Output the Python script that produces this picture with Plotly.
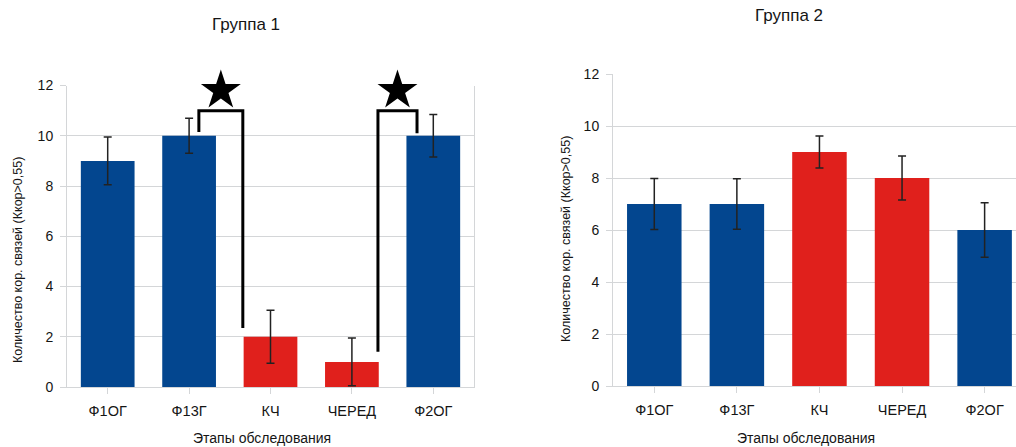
import plotly.graph_objects as go

# Data
stages = ["Ф1ОГ", "Ф13Г", "КЧ", "ЧЕРЕД", "Ф2ОГ"]
group1_values = [9, 10, 2, 1, 10]
group1_errors = [0.95, 0.7, 1.05, 0.95, 0.85]
group2_values = [7, 7, 9, 8, 6]
group2_errors = [0.98, 0.97, 0.62, 0.85, 1.05]
group1_colors = ["blue", "blue", "red", "red", "blue"]
group2_colors = ["blue", "blue", "red", "red", "blue"]
# significant pairs in group 1 (index pairs)
sig_pairs = [(1, 2), (3, 4)]

y_ticks = [0, 2, 4, 6, 8, 10, 12]
titles = ["Группа 1", "Группа 2"]
x_title = "Этапы обследования"
y_title = "Количество кор. связей (Ккор>0,55)"

PALETTE = {"blue": "#03468f", "red": "#e0201c"}
FONT = "Liberation Sans, Arial, sans-serif"
GRID = "#d4d6d8"
TEXT = "#151515"
W, H = 1016, 447

fig = go.Figure()

def add_bars(values, errors, colors, xa, ya):
    fig.add_trace(go.Bar(
        x=list(range(len(stages))), y=values,
        width=0.66,
        marker=dict(color=[PALETTE[c] for c in colors], line=dict(width=0)),
        error_y=dict(type="data", array=errors, visible=True,
                     color="#222222", thickness=1.5, width=4),
        xaxis=xa, yaxis=ya, showlegend=False, hoverinfo="skip",
    ))

add_bars(group1_values, group1_errors, group1_colors, "x", "y")
add_bars(group2_values, group2_errors, group2_colors, "x2", "y2")

# significance brackets with stars (group 1)
bracket_top = 11.0
for a, b in sig_pairs:
    if group1_values[a] > group1_values[b]:
        xa_, xb_ = a + 0.12, b - 0.34
        ya_, yb_ = group1_values[a] + 0.15, group1_values[b] + 0.35
    else:
        xa_, xb_ = a + 0.32, b - 0.2
        ya_, yb_ = group1_values[a] + 0.4, group1_values[b] + 0.1
    fig.add_trace(go.Scatter(
        x=[xa_, xa_, xb_, xb_], y=[ya_, bracket_top, bracket_top, yb_],
        mode="lines", line=dict(color="black", width=3),
        xaxis="x", yaxis="y", showlegend=False, hoverinfo="skip",
        cliponaxis=False,
    ))
    fig.add_trace(go.Scatter(
        x=[(xa_ + xb_) / 2], y=[11.8], mode="markers",
        marker=dict(symbol="star", size=30, color="black",
                    line=dict(width=0)),
        xaxis="x", yaxis="y", showlegend=False, hoverinfo="skip",
        cliponaxis=False,
    ))

def xaxis_cfg(domain, rng, anchor):
    return dict(
        domain=domain, range=rng, anchor=anchor, automargin=False,
        tickmode="array", tickvals=list(range(len(stages))), ticktext=stages,
        tickfont=dict(family=FONT, size=14.5, color=TEXT),
        showgrid=False, zeroline=False,
        showline=True, linecolor=GRID, linewidth=1,
        ticks="outside", ticklen=6, tickcolor=GRID, tickson="boundaries",
        ticklabelstandoff=5, fixedrange=True,
    )

def yaxis_cfg(domain, mirror, anchor):
    return dict(
        domain=domain, range=[0, 12], anchor=anchor, automargin=False,
        tickmode="array", tickvals=y_ticks,
        tickfont=dict(family=FONT, size=14, color=TEXT),
        showgrid=True, gridcolor=GRID, gridwidth=1,
        zeroline=False, showline=True, linecolor=GRID, linewidth=1,
        mirror=mirror,
        ticks="outside", ticklen=6, tickcolor=GRID,
        ticklabelstandoff=4, fixedrange=True,
    )

x1 = xaxis_cfg([67 / W, 474 / W], [-0.5, 4.5], "y")
x2 = xaxis_cfg([613 / W, 1.0], [-0.5, 4.38], "y2")
y1 = yaxis_cfg([(H - 387) / H, (H - 85.5) / H], True, "x")
y2 = yaxis_cfg([(H - 386) / H, (H - 74) / H], False, "x2")

annotations = []
def text_ann(txt, x, y, size, angle=0):
    annotations.append(dict(
        text=txt, x=x / W, y=1 - y / H, xref="paper", yref="paper",
        xanchor="center", yanchor="middle", showarrow=False,
        textangle=angle, font=dict(family=FONT, size=size, color=TEXT),
    ))

text_ann(titles[0], 246, 25, 17)
text_ann(titles[1], 789, 16, 17)
text_ann(x_title, 262, 438, 14)
text_ann(x_title, 806, 438, 14)
text_ann(y_title, 18, 260, 12.5, -90)
text_ann(y_title, 566, 239, 12.5, -90)

fig.update_layout(
    width=W, height=H, autosize=False,
    margin=dict(l=0, r=0, t=0, b=0, pad=0, autoexpand=False),
    paper_bgcolor="white", plot_bgcolor="white",
    xaxis=x1, yaxis=y1, xaxis2=x2, yaxis2=y2,
    annotations=annotations,
    barmode="overlay",
)

fig.write_html("out.html")
